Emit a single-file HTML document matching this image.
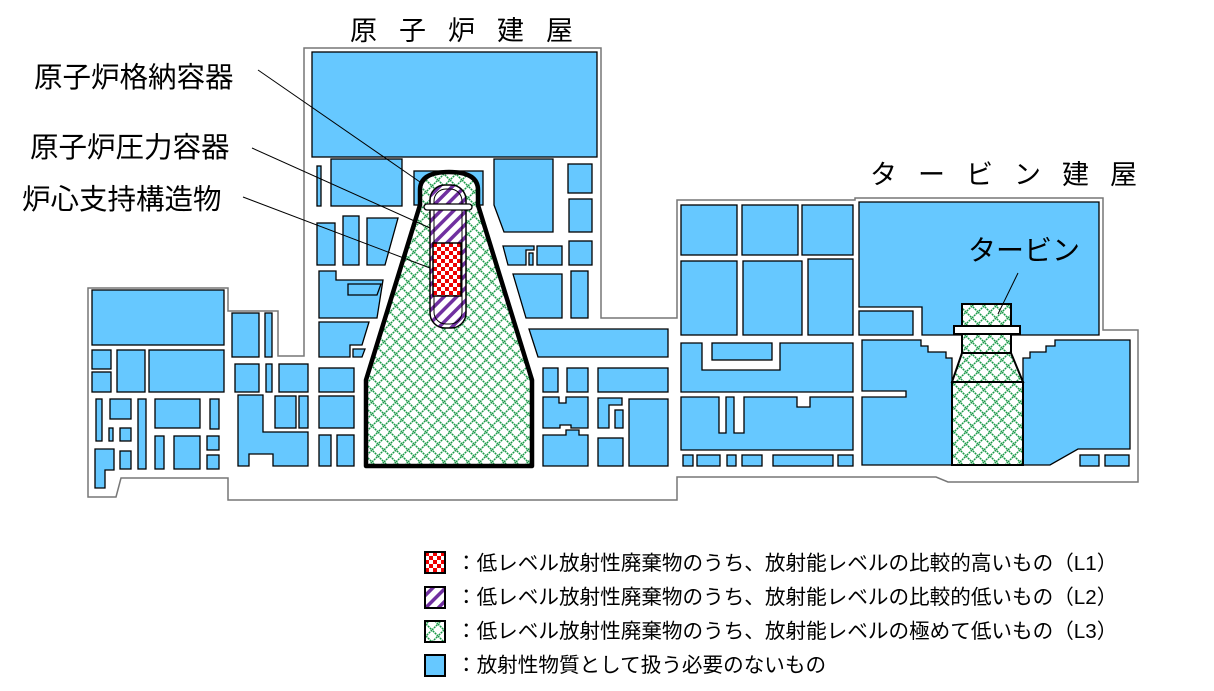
<!DOCTYPE html>
<html><head><meta charset="utf-8"><style>
html,body{margin:0;padding:0;background:#fff;}
svg{display:block;}
text{font-family:"Liberation Sans","Noto Sans CJK JP",sans-serif;fill:#000;}
</style></head><body>
<svg width="1214" height="691" viewBox="0 0 1214 691" xmlns="http://www.w3.org/2000/svg">
<defs>
<pattern id="chk" width="8" height="8" patternUnits="userSpaceOnUse" x="433" y="243">
<rect width="8" height="8" fill="#fff"/><rect width="4" height="4" fill="#e00"/><rect x="4" y="4" width="4" height="4" fill="#e00"/>
</pattern>
<pattern id="chk2" width="8" height="8" patternUnits="userSpaceOnUse" x="425" y="552">
<rect width="8" height="8" fill="#fff"/><rect width="4" height="4" fill="#e00"/><rect x="4" y="4" width="4" height="4" fill="#e00"/>
</pattern>
<pattern id="str" width="9" height="9" patternUnits="userSpaceOnUse" patternTransform="rotate(45)">
<rect width="9" height="9" fill="#fff"/><rect width="3.5" height="9" fill="#7030a0"/>
</pattern>
<pattern id="lat" width="12" height="12" patternUnits="userSpaceOnUse">
<rect width="12" height="12" fill="#fff"/>
<path d="M0 6 L6 0 L12 6 L6 12 Z" fill="none" stroke="#1a9a48" stroke-width="1.5" stroke-dasharray="2 0.8"/>
</pattern>
</defs>

<path d="M304 48 L601 48 L601 318 L677 318 L677 200 L855 200 L855 198 L1103 198 L1103 330 L1138 330 L1138 482 L948 482 L936 477 L677 477 L677 500 L228 500 L228 478 L121 478 L116 497 L88 497 L88 288 L228 288 L228 311 L278 311 L278 356 L304 356 Z" fill="#fff" stroke="#777" stroke-width="1.5"/>

<g fill="#66c8ff" stroke="#000" stroke-width="1.3">
<rect x="312" y="52" width="285" height="105"/>
<rect x="317" y="166" width="4" height="40"/>
<rect x="331" y="159" width="71" height="47"/>
<rect x="414" y="171" width="69" height="34"/>
<path d="M494 159 L553 159 L553 232 L504 232 L494 205 Z"/>
<rect x="568" y="164" width="24" height="29"/>
<rect x="569" y="199" width="23" height="33"/>
<rect x="569" y="241" width="23" height="24"/>
<rect x="571" y="271" width="17" height="47"/>
<rect x="317" y="223" width="18" height="42"/>
<rect x="343" y="216" width="16" height="49"/>
<path d="M367 218 L398 218 L385 265 L367 265 Z"/>
<path d="M319 271 L336 271 L336 280 L383 280 L377 318 L319 318 Z"/>
<path d="M348 284 L381 284 L377 295 L348 295 Z"/>
<path d="M319 322 L369 322 L362 345 L350 345 L350 357 L319 357 Z"/>
<path d="M353 349 L365 349 L362 357 L353 357 Z"/>
<path d="M503 246 L534 246 L534 250 L526 250 L526 265 L508 265 Z"/>
<rect x="529" y="253" width="4" height="12"/>
<rect x="537" y="246" width="25" height="19"/>
<path d="M513 274 L562 274 L562 318 L526 318 Z"/>
<path d="M529 329 L668 329 L668 357 L538 357 Z"/>
<rect x="319" y="368" width="35" height="24"/>
<rect x="319" y="396" width="35" height="32"/>
<rect x="319" y="435" width="12" height="31"/>
<rect x="337" y="435" width="17" height="31"/>
<rect x="543" y="368" width="15" height="24"/>
<rect x="567" y="368" width="21" height="24"/>
<rect x="598" y="368" width="70" height="24"/>
<path d="M543 397 L559 397 L559 403 L566 403 L566 397 L588 397 L588 428 L571 428 L571 425 L560 425 L560 428 L543 428 Z"/>
<path d="M598 398 L622 398 L622 405 L609 405 L609 428 L598 428 Z"/>
<rect x="615" y="410" width="8" height="18"/>
<rect x="629" y="399" width="39" height="67"/>
<path d="M543 435 L566 435 L566 430 L579 430 L579 435 L588 435 L588 466 L543 466 Z"/>
<rect x="598" y="438" width="25" height="28"/>
<rect x="92" y="290" width="132" height="55"/>
<rect x="92" y="350" width="19" height="19"/>
<rect x="92" y="372" width="19" height="20"/>
<rect x="117" y="350" width="28" height="42"/>
<rect x="149" y="350" width="75" height="42"/>
<rect x="96" y="399" width="6" height="42"/>
<rect x="110" y="399" width="21" height="20"/>
<rect x="109" y="428" width="4" height="13"/>
<rect x="120" y="428" width="11" height="13"/>
<rect x="138" y="399" width="8" height="70"/>
<rect x="155" y="399" width="45" height="29"/>
<rect x="210" y="399" width="9" height="30"/>
<rect x="155" y="436" width="9" height="33"/>
<rect x="174" y="436" width="26" height="33"/>
<rect x="207" y="436" width="12" height="14"/>
<rect x="207" y="455" width="12" height="14"/>
<rect x="120" y="451" width="11" height="18"/>
<path d="M95 449 L114 449 L114 470 L105 470 L105 488 L95 488 Z"/>
<rect x="232" y="313" width="27" height="44"/>
<rect x="265" y="313" width="7" height="44"/>
<rect x="235" y="364" width="24" height="28"/>
<rect x="266" y="364" width="6" height="28"/>
<rect x="279" y="364" width="29" height="28"/>
<path d="M238 395 L263 395 L263 432 L308 432 L308 466 L273 466 L273 454 L249 454 L249 466 L238 466 Z"/>
<rect x="275" y="396" width="21" height="32"/>
<rect x="299" y="396" width="9" height="32"/>
<rect x="681" y="205" width="56" height="50"/>
<rect x="742" y="205" width="56" height="50"/>
<rect x="802" y="205" width="51" height="50"/>
<rect x="681" y="261" width="56" height="74"/>
<rect x="743" y="261" width="59" height="74"/>
<rect x="808" y="259" width="45" height="76"/>
<path d="M859 202 L1099 202 L1099 335 L922 335 L922 307 L859 307 Z"/>
<rect x="859" y="311" width="54" height="24"/>
<path d="M681 343 L702 343 L702 370 L780 370 L780 343 L853 343 L853 392 L681 392 Z"/>
<rect x="712" y="343" width="60" height="17"/>
<path d="M681 397 L719 397 L719 433 L726 433 L726 397 L734 397 L734 433 L744 433 L744 397 L797 397 L797 407 L810 407 L810 397 L853 397 L853 450 L681 450 Z"/>
<rect x="683" y="455" width="10" height="11"/>
<rect x="697" y="455" width="23" height="11"/>
<rect x="727" y="455" width="9" height="11"/>
<rect x="742" y="455" width="20" height="11"/>
<rect x="773" y="455" width="60" height="11"/>
<rect x="838" y="455" width="15" height="11"/>
<path d="M862 340 L921 340 L921 346 L928 346 L928 352 L946 352 L946 358 L952 358 L952 465 L862 465 L862 397 L906 397 L906 391 L862 391 Z"/>
<path d="M1023 358 L1030 358 L1030 352 L1046 352 L1046 346 L1055 346 L1055 340 L1130 340 L1130 449 L1078 449 L1050 465 L1023 465 Z"/>
<rect x="1080" y="455" width="19" height="11"/>
<rect x="1105" y="455" width="24" height="11"/>
</g>

<path d="M420 205 L420 190 Q420 172 449 172 Q478 172 478 190 L478 205 L532 380 L532 466 L366 466 L366 380 Z" fill="url(#lat)" stroke="#000" stroke-width="4.5" stroke-linejoin="round"/>
<rect x="430" y="185" width="36" height="143" rx="15" fill="url(#str)" stroke="#000" stroke-width="1.5"/>
<rect x="434" y="189" width="28" height="135" rx="12" fill="none" stroke="#000" stroke-width="1"/>
<rect x="424" y="204" width="48" height="6" rx="3" fill="#fff" stroke="#000" stroke-width="1.3"/>
<rect x="433" y="243" width="28" height="53" fill="url(#chk)" stroke="#000" stroke-width="1.5"/>

<g fill="url(#lat)" stroke="#000" stroke-width="2">
<rect x="962" y="304" width="49" height="22"/>
<rect x="954" y="326" width="66" height="8" fill="#fff"/>
<rect x="962" y="334" width="49" height="19"/>
<path d="M962 353 L1011 353 L1023 382 L952 382 Z"/>
<rect x="952" y="382" width="71" height="83"/>
</g>

<g stroke="#000" stroke-width="1">
<line x1="258" y1="70" x2="420" y2="182"/>
<line x1="252" y1="148" x2="430" y2="228"/>
<line x1="243" y1="197" x2="430" y2="268"/>
<line x1="1018" y1="273" x2="998" y2="314"/>
</g>

<text x="350" y="40" font-size="27" letter-spacing="22">原子炉建屋</text>
<text x="870" y="184" font-size="27" letter-spacing="21">タービン建屋</text>
<text x="34" y="87" font-size="28.5">原子炉格納容器</text>
<text x="30" y="157" font-size="28.5">原子炉圧力容器</text>
<text x="22" y="209" font-size="28.5">炉心支持構造物</text>
<text x="968" y="260" font-size="28">タービン</text>

<rect x="425" y="552" width="20" height="21" fill="url(#chk2)" stroke="#000" stroke-width="2"/>
<rect x="425" y="587" width="20" height="21" fill="url(#str)" stroke="#000" stroke-width="2"/>
<rect x="425" y="621" width="20" height="21" fill="url(#lat)" stroke="#000" stroke-width="2"/>
<rect x="425" y="655" width="20" height="21" fill="#66c8ff" stroke="#000" stroke-width="2"/>
<g font-size="20.6">
<text x="456" y="570">：低レベル放射性廃棄物のうち、放射能レベルの比較的高いもの（L1）</text>
<text x="456" y="604">：低レベル放射性廃棄物のうち、放射能レベルの比較的低いもの（L2）</text>
<text x="456" y="638">：低レベル放射性廃棄物のうち、放射能レベルの極めて低いもの（L3）</text>
<text x="456" y="672">：放射性物質として扱う必要のないもの</text>
</g>
</svg>
</body></html>
